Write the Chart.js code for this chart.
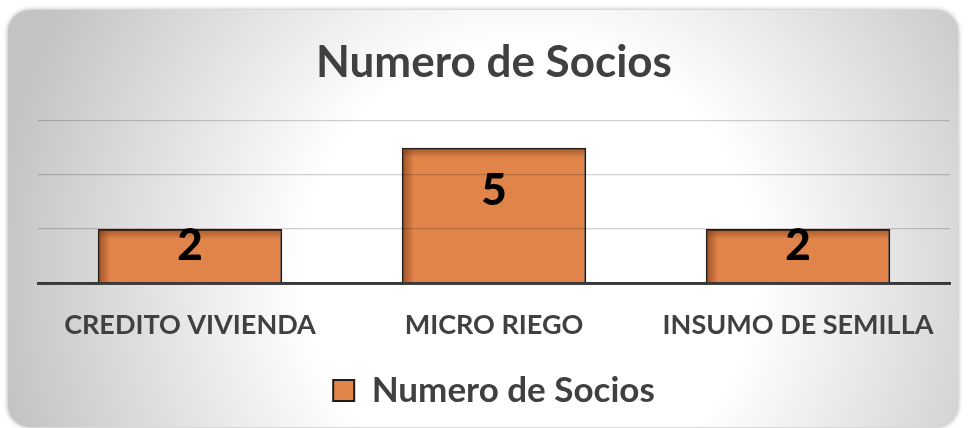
<!DOCTYPE html>
<html>
<head>
<meta charset="utf-8">
<script src="https://cdn.jsdelivr.net/npm/chart.js@4.4.0/dist/chart.umd.min.js"></script>
<style>
  html, body { margin: 0; padding: 0; background: #fff; }
  #wrap { width: 968px; height: 428px; }
</style>
</head>
<body>
<div id="wrap"><canvas id="chart"></canvas></div>
<script>
// chart data
const categories = ['CREDITO VIVIENDA', 'MICRO RIEGO', 'INSUMO DE SEMILLA'];
const socios = [2, 5, 2];
const seriesName = 'Numero de Socios';
const chartTitle = 'Numero de Socios';
const yMax = 6;
const yStep = 2;

const FONT = 'Lato, "Open Sans", sans-serif';

// rounded card with the grey radial background
const cardBackground = {
    id: 'cardBackground',
    beforeDraw(chart) {
        const ctx = chart.ctx;
        ctx.save();
        const g = ctx.createRadialGradient(530, 270, 0, 530, 270, 540);
        g.addColorStop(0, '#ffffff');
        g.addColorStop(0.42, '#ffffff');
        g.addColorStop(1, '#c3c3c3');
        ctx.shadowColor = 'rgba(0,0,0,0.35)';
        ctx.shadowBlur = 5;
        ctx.beginPath();
        ctx.roundRect(8, 10, 950, 417, 22);
        ctx.fillStyle = g;
        ctx.fill();
        ctx.restore();
    }
};

// darker inner edge on the bars
const barShade = {
    id: 'barShade',
    afterDatasetsDraw(chart) {
        const ctx = chart.ctx;
        const meta = chart.getDatasetMeta(0);
        ctx.save();
        meta.data.forEach(bar => {
            const left = bar.x - bar.width / 2 + 1;
            const top = bar.y + 1;
            const h = bar.base - top;
            let g = ctx.createLinearGradient(left, 0, left + 11, 0);
            g.addColorStop(0, 'rgba(110,50,15,0.6)');
            g.addColorStop(1, 'rgba(110,50,15,0)');
            ctx.fillStyle = g;
            ctx.fillRect(left, top, 11, h);
            g = ctx.createLinearGradient(0, top, 0, top + 9);
            g.addColorStop(0, 'rgba(110,50,15,0.5)');
            g.addColorStop(1, 'rgba(110,50,15,0)');
            ctx.fillStyle = g;
            ctx.fillRect(left, top, bar.width - 2, 9);
        });
        ctx.restore();
    }
};

// value labels drawn over the bars
const valueLabels = {
    id: 'valueLabels',
    afterDraw(chart) {
        const ctx = chart.ctx;
        const yScale = chart.scales.y;
        const meta = chart.getDatasetMeta(0);
        ctx.save();
        ctx.font = '900 44px ' + FONT;
        ctx.fillStyle = '#000';
        ctx.textAlign = 'center';
        ctx.textBaseline = 'middle';
        meta.data.forEach((bar, i) => {
            const v = socios[i];
            ctx.fillText(String(v), bar.x, yScale.getPixelForValue(v * 0.68));
        });
        ctx.restore();
    }
};

const ctx = document.getElementById('chart').getContext('2d');
const chart = new Chart(ctx, {
    type: 'bar',
    data: {
        labels: categories,
        datasets: [{
            label: seriesName,
            data: socios,
            backgroundColor: '#e0844a',
            borderColor: '#1c1c1c',
            borderWidth: 2,
            barPercentage: 0.607,
            categoryPercentage: 1
        }]
    },
    options: {
        responsive: true,
        maintainAspectRatio: false,
        animation: false,
        layout: { padding: { left: 38, right: 18, top: 20, bottom: 10 } },
        scales: {
            x: {
                grid: { display: false, drawTicks: false },
                border: { color: '#404040', width: 3 },
                ticks: {
                    color: '#404040',
                    font: { family: FONT, size: 27, weight: 'bold' },
                    padding: 26
                },
                afterFit(scale) { scale.height = 82; }
            },
            y: {
                min: 0,
                max: yMax,
                ticks: { display: false, stepSize: yStep },
                grid: { color: 'rgba(0,0,0,0.18)', lineWidth: 1.3, drawTicks: false, z: 1 },
                border: { display: false }
            }
        },
        plugins: {
            title: {
                display: true,
                text: chartTitle,
                color: '#404040',
                font: { family: FONT, size: 44, weight: 'bold' },
                padding: { top: 16, bottom: 32 }
            },
            legend: {
                position: 'bottom',
                labels: {
                    color: '#404040',
                    font: { family: FONT, size: 35, weight: 'bold' },
                    boxWidth: 21,
                    boxHeight: 21,
                    padding: 8
                }
            },
            tooltip: { enabled: false }
        }
    },
    plugins: [cardBackground, barShade, valueLabels]
});
</script>
</body>
</html>
